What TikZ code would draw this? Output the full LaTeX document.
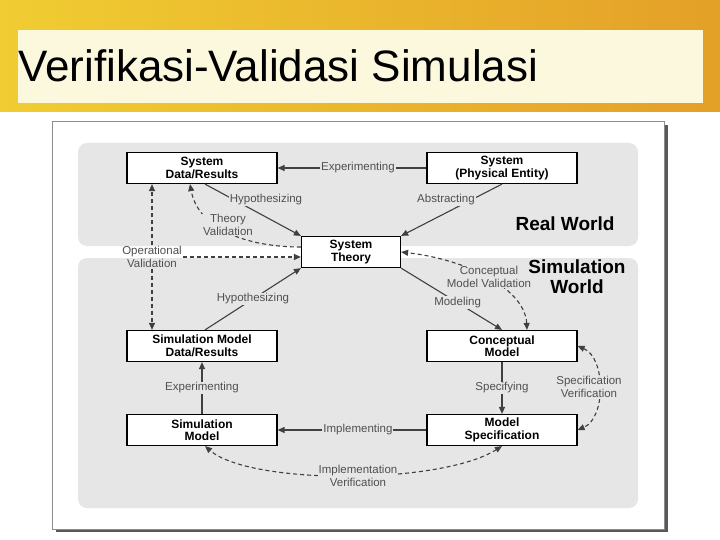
\documentclass[tikz,border=0pt]{standalone}
\usepackage{fontspec}
\setmainfont{Liberation Sans}
\usetikzlibrary{arrows.meta}

\definecolor{bandyellow}{RGB}{240,205,50}
\definecolor{bandlight}{RGB}{248,232,90}
\definecolor{bandorange}{RGB}{228,160,40}
\definecolor{titlecream}{RGB}{252,248,222}
\definecolor{worldgray}{RGB}{230,230,230}
\definecolor{lblgray}{RGB}{80,80,80}

\begin{document}
\begin{tikzpicture}[x=1pt,y=-1pt,
  box/.style={draw,line width=1.2pt,fill=white,minimum width=150pt,minimum height=31pt,
    inner sep=1pt,align=center,font=\fontsize{12}{12.5}\selectfont\bfseries},
  lbl/.style={fill=worldgray,inner sep=1pt,align=center,text=lblgray,
    font=\fontsize{11.5}{12.5}\selectfont},
  world/.style={font=\fontsize{19}{20}\selectfont\bfseries,align=center},
  tip/.style={Triangle[length=7pt,width=6pt]},
  arr/.style={draw=black!75,line width=1.1pt,-{Triangle[length=7pt,width=6pt]}},
  dasharr/.style={arr,dashed,dash pattern=on 4pt off 3pt},
  both/.style={{Triangle[length=7pt,width=6pt]}-{Triangle[length=7pt,width=6pt]}}]

\useasboundingbox (0,0) rectangle (720,540);

% slide background
\shade[left color=bandyellow,middle color=bandlight,right color=bandorange] (0,0) rectangle (720,112);
\fill[titlecream] (18,30) rectangle (703,103);
\node[anchor=base west,inner sep=0pt,font=\fontsize{44}{50}\selectfont] (title) at (18,82) {Verifikasi-Validasi Simulasi};

% picture frame
\fill[black!65] (56,125) rectangle (668,532);
\fill[white,draw=black!45,line width=0.6pt] (52,121) rectangle (664,529);

% the two worlds
\fill[worldgray,rounded corners=9pt] (78,143) rectangle (638,246);
\fill[worldgray,rounded corners=9pt] (78,258) rectangle (638,508);
\node[world] (real) at (565,224) {Real World};

% boxes
\node[box] (sysdata) at (202,168) {System\\Data/Results};
\node[box] (physical) at (502,168) {System\\(Physical Entity)};
\node[box,minimum width=99pt] (theory) at (351,252) {System\\Theory};
\node[box] (simdata) at (202,346) {Simulation Model\\Data/Results};
\node[box] (concept) at (502,346) {Conceptual\\Model};
\node[box] (simmodel) at (202,430) {Simulation\\Model};
\node[box] (spec) at (502,430) {Model\\Specification};

% solid connectors
\draw[arr] (physical) -- node[lbl,pos=0.46] (exp1) {Experimenting} (sysdata);
\draw[arr] ([xshift=3pt]sysdata.south) -- (theory.north west);
\node[lbl] (hyp1) at (266,200) {Hypothesizing};
\draw[arr] (physical.south) -- (theory.north east);
\node[lbl] (abs) at (446,200) {Abstracting};
\draw[arr] ([xshift=3pt]simdata.north) -- node[lbl] (hyp2) {Hypothesizing} (theory.south west);
\draw[arr] (theory.south east) -- node[lbl,pos=0.56] (model) {Modeling} (concept.north);
\draw[arr] (concept) -- node[lbl] (specif) {Specifying} (spec);
\draw[arr] (spec) -- node[lbl,pos=0.46] (impl) {Implementing} (simmodel);
\draw[arr] (simmodel) -- node[lbl] (exp2) {Experimenting} (simdata);

% dashed connectors
\draw[dasharr] ([yshift=5pt]theory.west) .. controls (245,247) and (198,228) .. ([xshift=-12pt]sysdata.south);
\node[lbl] (theoval) at (228,225) {Theory\\Validation};
\node[lbl,fill=none] (opval) at (152,257) {Operational\\Validation};
\draw[dasharr] (opval.north) -- (sysdata.south -| opval.north);
\draw[dasharr] (opval.south) -- (simdata.north -| opval.south);
\draw[dasharr] (opval.east) -- (theory.west |- opval.east);
\draw[dasharr,both] ([xshift=25pt]concept.north) .. controls (525,290) and (470,260) .. (theory.east);
\node[lbl] (cmval) at (489,277) {Conceptual\\Model Validation};
\node[world] (simw) at (577,277) {Simulation\\World};
\draw[dasharr,both] (concept.east) .. controls (606,358) and (606,418) .. (spec.east);
\node[lbl] (specval) at (589,387) {Specification\\Verification};
\draw[dasharr,both] (spec.south) .. controls (440,485) and (250,485) .. ([xshift=3pt]simmodel.south);
\node[lbl] (implval) at (358,476) {Implementation\\Verification};

\end{tikzpicture}
\end{document}
